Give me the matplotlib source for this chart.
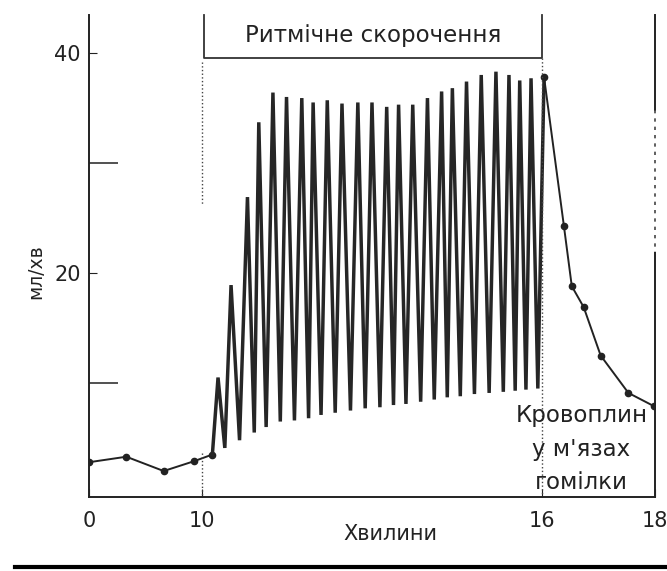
import numpy as np
import matplotlib
matplotlib.use("Agg")
import matplotlib.pyplot as plt
from matplotlib.lines import Line2D

plt.rcParams['font.family'] = ['DejaVu Sans']

# resting flow before exercise (minutes, ml/min)
rest_t = [0, 3.3, 6.6, 9.3, 10.18]
rest_v = [2.8, 3.3, 2.0, 2.9, 3.5]

# rhythmic contractions: peak and trough of every cycle
peak_t = [10.28, 10.51, 10.8, 11.0, 11.25, 11.49, 11.76, 11.96, 12.21, 12.47,
          12.75, 13.0, 13.26, 13.47, 13.72, 13.98, 14.23, 14.42, 14.67, 14.93,
          15.19, 15.42, 15.61, 15.81]
peak_v = [10.5, 18.9, 26.9, 33.7, 36.4, 36.0, 35.9, 35.5, 35.7, 35.4,
          35.5, 35.5, 35.1, 35.3, 35.3, 35.9, 36.5, 36.8, 37.4, 38.0,
          38.3, 38.0, 37.5, 37.7]
trough_t = [10.4, 10.66, 10.92, 11.13, 11.38, 11.63, 11.88, 12.1, 12.35, 12.62,
            12.88, 13.14, 13.38, 13.6, 13.86, 14.1, 14.33, 14.56, 14.81, 15.07,
            15.32, 15.53, 15.72, 15.93]
trough_v = [4.1, 4.8, 5.5, 6.0, 6.5, 6.6, 6.8, 7.1, 7.3, 7.5,
            7.7, 7.8, 8.0, 8.1, 8.3, 8.5, 8.7, 8.8, 9.0, 9.1,
            9.2, 9.3, 9.4, 9.5]

# recovery after exercise
rec_t = [16.04, 16.39, 16.53, 16.74, 17.04, 17.53, 17.98]
rec_v = [37.8, 24.3, 18.8, 16.9, 12.5, 9.1, 7.9]

x_ticks = [0, 10, 16, 18]
y_ticks = [20, 40]
y_minor = [10, 30]

ctr_t = rest_t[-1:] + [v for pair in zip(peak_t, trough_t) for v in pair] + rec_t[:1]
ctr_v = rest_v[-1:] + [v for pair in zip(peak_v, trough_v) for v in pair] + rec_v[:1]


def fwd(t):
    t = np.asarray(t, dtype=float)
    return np.where(t < 10, t * 0.2, t - 8)


def inv(u):
    u = np.asarray(u, dtype=float)
    return np.where(u < 2, u * 5, u + 8)


fig = plt.figure(figsize=(6.67, 5.71), dpi=100)
ax = fig.add_axes([0.1334, 0.1296, 0.8486, 0.8441])
ax.set_xscale('function', functions=(fwd, inv))
ax.set_xlim(0, 18)
ax.set_ylim(-0.36, 43.45)

ax.plot(rest_t, rest_v, color='#222222', lw=1.4, marker='o', ms=4.5)
ax.plot(ctr_t, ctr_v, color='#262626', lw=2.5, solid_joinstyle='miter')
ax.plot(rec_t, rec_v, color='#222222', lw=1.4, marker='o', ms=4.5)

# bracket over the contraction period
ax.plot([10.03, 10.03, 16.0, 16.0], [43.45, 39.5, 39.5, 43.45],
        color='#333333', lw=1.3, clip_on=False)
ax.text(13.02, 41.6, 'Ритмічне скорочення', ha='center', va='center',
        fontsize=16.5, color='#222222')
ax.plot([10, 10], [39.2, 26.2], color='#444444', lw=1, ls=':')
ax.plot([10, 10], [3.6, -0.36], color='#444444', lw=1, ls=':')
ax.plot([16, 16], [39.5, -0.36], color='#444444', lw=1, ls=':')

ax.text(16.7, 4.0, 'Кровоплин\nу м\'язах\nгомілки', ha='center', va='center',
        fontsize=16.5, color='#222222', linespacing=1.6)

# right border: solid, broken in the middle
ax.spines['top'].set_visible(False)
ax.spines['right'].set_visible(False)
ax.plot([18, 18], [43.45, 34.8], color='#222222', lw=1.4, clip_on=False)
ax.plot([18, 18], [34.8, 21.8], color='#444444', lw=1.2, ls=(0, (2, 3)),
        clip_on=False)
ax.plot([18, 18], [21.8, -0.36], color='#222222', lw=1.4, clip_on=False)
for s in ['left', 'bottom']:
    ax.spines[s].set_linewidth(1.4)
    ax.spines[s].set_color('#222222')

ax.set_xticks(x_ticks)
ax.set_xticklabels([str(v) for v in x_ticks])
ax.set_yticks(y_ticks)
ax.set_yticks(y_minor, minor=True)
ax.xaxis.set_minor_locator(matplotlib.ticker.NullLocator())
ax.tick_params(axis='both', which='major', direction='in', length=6,
               labelsize=15, pad=10, colors='#222222')
ax.tick_params(axis='y', which='minor', direction='in', length=21, width=1.2,
               colors='#333333')
ax.tick_params(axis='y', which='major', pad=6)
ax.set_xlabel('Хвилини', fontsize=15, color='#222222')
ax.set_ylabel('мл/хв', fontsize=13.5, color='#222222')
ax.xaxis.set_label_coords(0.5318, -0.057)
ax.yaxis.set_label_coords(-0.078, 0.468)

fig.add_artist(Line2D([0.022, 1.0], [0.007, 0.007], color='black', lw=3,
                      transform=fig.transFigure))

fig.savefig('out.png', dpi=100)
